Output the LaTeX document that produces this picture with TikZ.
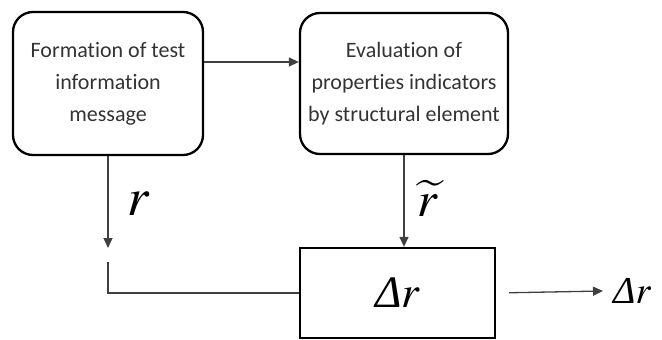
\documentclass[tikz,border=0pt]{standalone}
\usepackage{mathptmx}
\usepackage{fontspec}
\setmainfont{Carlito}[Ligatures=NoCommon]
\newfontfamily\serifsym{Liberation Serif}
\usetikzlibrary{arrows.meta}

\definecolor{inkgray}{HTML}{333333}
\definecolor{linegray}{HTML}{404040}

\newcommand{\deltar}{{\serifsym\itshape Δ}$r$}

\begin{document}
\begin{tikzpicture}[
		x=1pt, y=-1pt,
		% Style for the rounded blocks
		roundblock/.style={draw=black, line width=2.3pt, rounded corners=20pt, inner sep=0pt,
			align=center, text=inkgray, font=\fontsize{22}{32}\selectfont},
		% Style for the plain block
		plainblock/.style={draw=black, line width=2.3pt, inner sep=0pt,
			minimum width=195pt, minimum height=90pt},
		% Connectors and symbols
		link/.style={draw=linegray, line width=1.3pt, -{Triangle[length=10pt,width=9pt]}},
		feed/.style={draw=linegray, line width=1.3pt},
		sym/.style={font=\fontsize{#1}{#1}\selectfont, inner sep=0pt}
	]
	\useasboundingbox (0,0) rectangle (662,340);
	
	% Blocks
	\node[roundblock, minimum width=190pt, minimum height=143pt] (form) at (108,83.5)
		{Formation of test\\information\\message};
	\node[roundblock, minimum width=208pt, minimum height=141pt] (eval) at (404,83.5)
		{Evaluation of\\properties indicators\\by structural element};
	\node[plainblock, sym=45] (diff) at (397.5,293) {\deltar};
	
	% Symbols
	\node[sym=54] (rlabel) at (139,204) {$r$};
	\node[sym=50] (rtilde) at (428,198.5) {$\widetilde{r}$};
	\node[sym=38, anchor=west, inner xsep=10pt] (out) at (603,291) {\deltar};
	
	% Connectors
	\coordinate (gapend) at (108,248);
	\coordinate (gapstart) at (108,262);
	\draw[link] ([yshift=21.5pt]form.east) -- ([yshift=21.5pt]form.east -| eval.west);
	\draw[link] (form.south) -- (gapend);
	\draw[feed] (gapstart) -- (gapstart |- diff.west) -- (diff.west);
	\draw[link] (eval.south) -- (eval.south |- diff.north);
	\draw[link, shorten <=13pt] (diff.east) -- (out.west);
\end{tikzpicture}
\end{document}
